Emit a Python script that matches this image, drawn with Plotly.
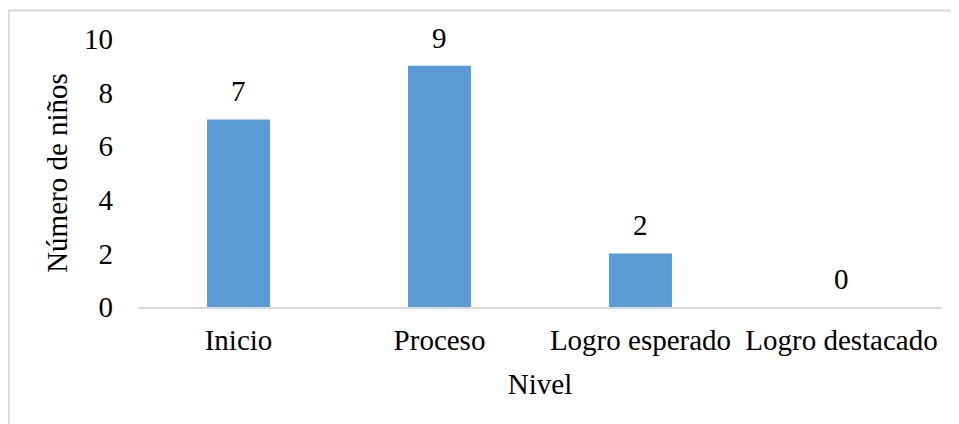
import plotly.graph_objects as go

# data
niveles = ["Inicio", "Proceso", "Logro esperado", "Logro destacado"]
ninos = [7, 9, 2, 0]

FONT = "Liberation Serif, Times New Roman, serif"
BAR = "#5B9BD5"

fig = go.Figure()
fig.add_trace(go.Bar(x=niveles, y=ninos, marker=dict(color=BAR, line=dict(width=0)),
                     width=0.313, showlegend=False, hoverinfo="x+y"))

# value labels above the bars
for n, v in zip(niveles, ninos):
    fig.add_annotation(x=n, y=v, text=str(v), showarrow=False,
                       yanchor="bottom", yshift=10,
                       font=dict(family=FONT, size=29, color="black"))

# light gray chart frame (runs off the bottom/right of the picture)
fig.add_shape(type="rect", xref="paper", yref="paper",
              x0=-0.1607, x1=1.2, y0=-0.6, y1=1.1065,
              line=dict(color="#D9D9D9", width=2), layer="below")

fig.update_layout(
    width=959, height=424,
    margin=dict(l=130, r=25, t=31, b=125),
    paper_bgcolor="white", plot_bgcolor="white",
    font=dict(family=FONT, size=29, color="black"),
    bargap=0.687,
    xaxis=dict(
        title=dict(text="Nivel", standoff=19, font=dict(size=29)),
        showline=True, linecolor="#D9D9D9", linewidth=2,
        ticks="", showgrid=False, tickfont=dict(size=29),
        ticklabelstandoff=6,
    ),
    yaxis=dict(
        title=dict(text="Número de niños", standoff=7, font=dict(size=29)),
        range=[0, 10], dtick=2, showgrid=False, zeroline=False,
        showline=False, ticks="", ticklabelstandoff=24, tickfont=dict(size=29),
    ),
)

fig.write_html("out.html")
